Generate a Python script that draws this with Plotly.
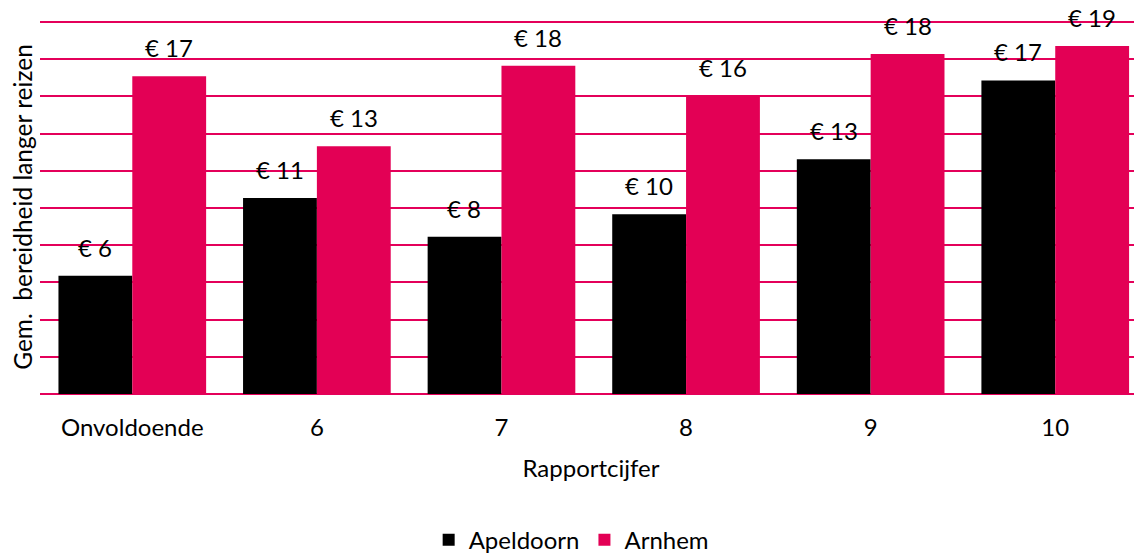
import plotly.graph_objects as go

categories = ["Onvoldoende", "6", "7", "8", "9", "10"]
apeldoorn = [6.36, 10.54, 8.45, 9.66, 12.62, 16.85]
arnhem = [17.08, 13.32, 17.64, 16.03, 18.27, 18.70]
series_names = ["Apeldoorn", "Arnhem"]
series_colors = ["#000000", "#E30055"]

FONT = "Lato, 'Open Sans', sans-serif"
GRID = "#E4005A"

positions = list(range(len(categories)))

fig = go.Figure()
for name, vals, col in zip(series_names, [apeldoorn, arnhem], series_colors):
    fig.add_trace(go.Bar(
        x=positions, y=vals, name=name,
        marker=dict(color=col, line=dict(width=0)),
    ))

annotations = []
for vals, shift in [(apeldoorn, -37), (arnhem, 37)]:
    for p, v in zip(positions, vals):
        annotations.append(dict(
            x=p, y=v, xref="x", yref="y", text=f"€ {round(v)}",
            showarrow=False, xshift=shift, yanchor="bottom", yshift=12,
            font=dict(family=FONT, size=24, color="#000000"),
        ))

fig.update_layout(
    width=1134, height=545,
    margin=dict(l=32, r=0, t=12, b=158.5, autoexpand=False),
    paper_bgcolor="white", plot_bgcolor="white",
    barmode="group", bargap=0.2, bargroupgap=0,
    font=dict(family=FONT, size=24, color="#000000"),
    showlegend=True,
    legend=dict(orientation="h", x=0.482, xanchor="center", xref="paper",
                y=-0.391, yanchor="middle", font=dict(size=24),
                itemwidth=30, traceorder="normal"),
    annotations=annotations,
    xaxis=dict(
        range=[-0.5, 5.47], showgrid=False, zeroline=False, showline=False,
        tickmode="array", tickvals=positions, ticktext=categories,
        ticks="outside", ticklen=12, tickcolor="rgba(0,0,0,0)",
        tickfont=dict(size=24), automargin=False,
        title=dict(text="Rapportcijfer", font=dict(size=24), standoff=20),
    ),
    yaxis=dict(
        range=[0, 20.1], tickmode="array", tickvals=[0, 2, 4, 6, 8, 10, 12, 14, 16, 18, 20],
        showticklabels=False, showgrid=True, automargin=False,
        gridcolor=GRID, gridwidth=2, zeroline=True, zerolinecolor=GRID,
        zerolinewidth=2, showline=False,
        title=dict(text="Gem.  bereidheid langer reizen", font=dict(size=24.5), standoff=4),
    ),
)

fig.write_html("out.html")
